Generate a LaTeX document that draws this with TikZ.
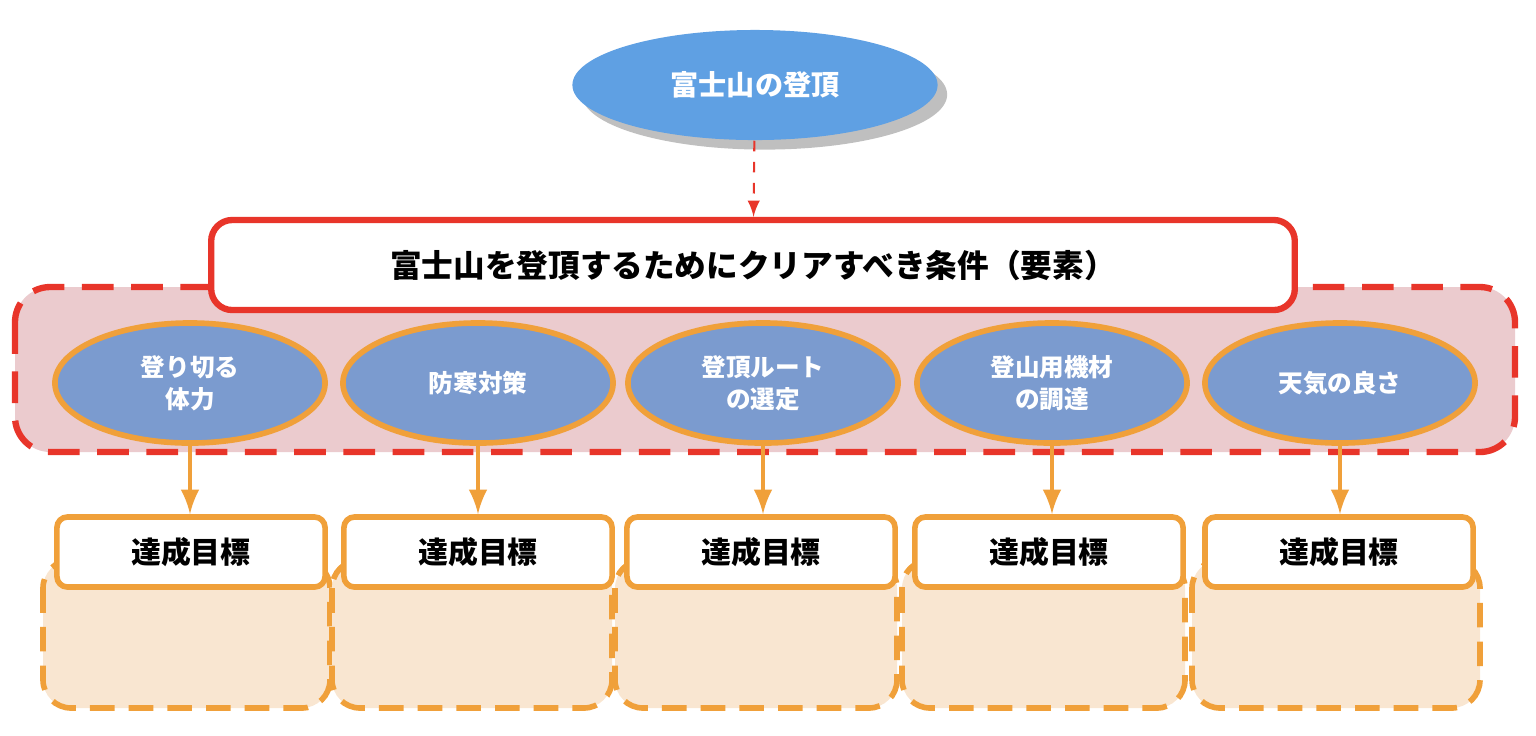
\documentclass[tikz,border=0pt]{standalone}
\usepackage{fontspec}
\setmainfont{Noto Sans CJK JP}
\usetikzlibrary{shapes.geometric,shadows}
\definecolor{goalblue}{HTML}{5FA0E3}
\definecolor{elemblue}{HTML}{7B9BCF}
\definecolor{frame}{HTML}{E8352A}
\definecolor{pinkbg}{HTML}{EBCBCE}
\definecolor{orng}{HTML}{F0A03A}
\definecolor{peach}{HTML}{F9E6D1}
\tikzset{
  elem/.style={ellipse,draw=orng,line width=1.6pt,fill=elemblue,text=white,
    minimum width=2.7cm,minimum height=1.2cm,align=center,font=\fontsize{7}{9}\selectfont\bfseries},
  target/.style={rectangle,rounded corners=3pt,draw=orng,line width=1.6pt,fill=white,
    minimum width=2.68cm,minimum height=0.7cm,font=\fontsize{8.5}{10}\selectfont\bfseries},
  area/.style={rounded corners=8pt,draw=orng,line width=1.6pt,dash pattern=on 7pt off 4pt,fill=peach},
  link/.style={-latex,orng,line width=1.4pt}
}
\begin{document}
\begin{tikzpicture}[x=0.01cm,y=-0.01cm]
  \useasboundingbox (0,0) rectangle (1536,735);
  % region of elements
  \draw [rounded corners=10pt,draw=frame,line width=1.8pt,dash pattern=on 9pt off 5pt,fill=pinkbg]
    (15,287) rectangle (1515,452);
  \node [ellipse,fill=goalblue,text=white,minimum width=3.65cm,minimum height=1.1cm,
    drop shadow,font=\fontsize{8}{10}\selectfont\bfseries] (goal) at (755,85) {富士山の登頂};
  \node [rectangle,rounded corners=6pt,draw=frame,line width=1.8pt,fill=white,
    minimum width=10.83cm,minimum height=0.9cm,font=\fontsize{9}{11}\selectfont\bfseries]
    (cond) at (753,265) {富士山を登頂するためにクリアすべき条件（要素）};
  \draw [-latex,frame,dashed,line width=0.6pt] (goal) -- (cond);

  \foreach \i/\x/\ax/\bx/\tx/\txt in {1/190/43/330/191/{登り切る\\体力},
      2/478/332/612/478/防寒対策,
      3/763/615/897/761/{登頂ルート\\の選定},
      4/1052/902/1185/1049/{登山用機材\\の調達},
      5/1340/1192/1480/1339/天気の良さ} {
    \draw [area] (\ax,560) rectangle (\bx,708);
    \node [elem] (e\i) at (\x,383) {\txt};
    \node [target] (t\i) at (\tx,552) {達成目標};
    \draw [link] (e\i) -- (t\i.north -| e\i);
  }
\end{tikzpicture}
\end{document}
